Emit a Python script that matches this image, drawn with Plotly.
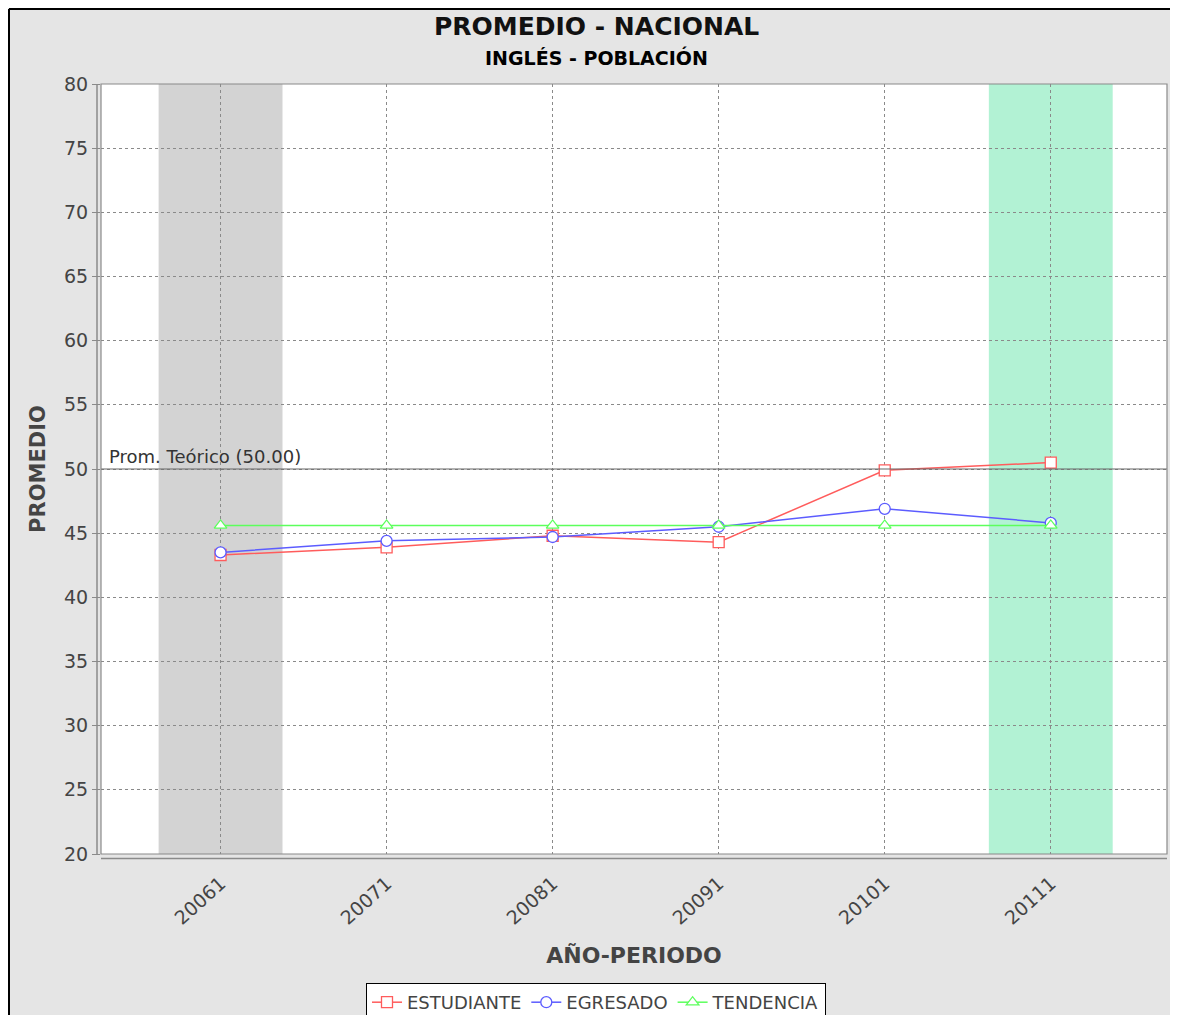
import plotly.graph_objects as go

periodos = ["20061", "20071", "20081", "20091", "20101", "20111"]
estudiante = [43.3, 43.9, 44.8, 44.3, 49.9, 50.5]
egresado = [43.5, 44.4, 44.7, 45.5, 46.9, 45.8]
tendencia = [45.6, 45.6, 45.6, 45.6, 45.6, 45.6]
prom_teorico = 50.0
y_ticks = [20, 25, 30, 35, 40, 45, 50, 55, 60, 65, 70, 75, 80]
banda_gris = "20061"
banda_verde = "20111"

OFF = 8  # page body margin
W, H = 1178 - OFF, 1015 - OFF
# plot area in page pixels
PL, PR, PT, PB = 101, 1167, 84, 854
L, R, T, B = PL - OFF, W - (PR - OFF), PT - OFF, H - (PB - OFF)
pw, ph = W - L - R, H - T - B

def px_x(p):
    return (p - PL) / pw

def px_y(p):
    return (PB - p) / ph

FONT = "DejaVu Sans"
fig = go.Figure()

series = [
    ("ESTUDIANTE", estudiante, "#ff5c5c", "square"),
    ("EGRESADO", egresado, "#5c5cff", "circle"),
    ("TENDENCIA", tendencia, "#5cff5c", "triangle-up"),
]
for name, vals, col, sym in series:
    fig.add_trace(go.Scatter(
        x=periodos, y=vals, name=name, mode="lines+markers",
        line=dict(color=col, width=1.5),
        marker=dict(symbol=sym, size=11, color="white", line=dict(color=col, width=1.3)),
    ))

shapes = []
idx_g = periodos.index(banda_gris)
idx_v = periodos.index(banda_verde)
shapes.append(dict(type="rect", xref="x", yref="paper", x0=idx_g - 0.373, x1=idx_g + 0.373,
                   y0=0, y1=1, fillcolor="#d3d3d3", line=dict(width=0), layer="below"))
shapes.append(dict(type="rect", xref="x", yref="paper", x0=idx_v - 0.373, x1=idx_v + 0.373,
                   y0=0, y1=1, fillcolor="#b2f2d4", line=dict(width=0), layer="below"))
shapes.append(dict(type="line", xref="paper", yref="y", x0=0, x1=1, y0=prom_teorico, y1=prom_teorico,
                   line=dict(color="#666666", width=1.2)))
shapes.append(dict(type="rect", xref="paper", yref="paper", x0=0, x1=1, y0=0, y1=1,
                   line=dict(color="#8a8a8a", width=1.2)))
shapes.append(dict(type="line", xref="paper", yref="paper", x0=px_x(97), x1=px_x(97), y0=0, y1=1,
                   line=dict(color="#8a8a8a", width=1.5)))
shapes.append(dict(type="line", xref="paper", yref="paper", x0=0, x1=1, y0=px_y(858.5), y1=px_y(858.5),
                   line=dict(color="#8a8a8a", width=1.5)))
# outer frame (left and top edges of the figure)
shapes.append(dict(type="line", xref="paper", yref="paper", x0=px_x(9), x1=px_x(1200),
                   y0=px_y(9), y1=px_y(9), line=dict(color="black", width=2)))
shapes.append(dict(type="line", xref="paper", yref="paper", x0=px_x(9), x1=px_x(9),
                   y0=px_y(9), y1=px_y(1100), line=dict(color="black", width=2)))

annotations = [
    dict(text="Prom. Teórico (50.00)", xref="paper", yref="y", x=px_x(107), y=prom_teorico,
         xanchor="left", yanchor="bottom", showarrow=False, yshift=0,
         font=dict(family=FONT, size=18, color="#333333")),
    dict(text="<b>PROMEDIO - NACIONAL</b>", xref="paper", yref="paper", x=px_x(596), y=px_y(26),
         xanchor="center", yanchor="middle", showarrow=False,
         font=dict(family=FONT, size=25, color="#111111")),
    dict(text="<b>INGLÉS - POBLACIÓN</b>", xref="paper", yref="paper", x=px_x(596), y=px_y(57),
         xanchor="center", yanchor="middle", showarrow=False,
         font=dict(family=FONT, size=19, color="black")),
]

fig.update_layout(
    width=W, height=H,
    margin=dict(l=L, r=R, t=T, b=B),
    paper_bgcolor="#e5e5e5", plot_bgcolor="white",
    shapes=shapes, annotations=annotations,
    showlegend=True,
    legend=dict(orientation="h", x=(596 - OFF) / W, xanchor="center", xref="container",
                y=1 - (983 - OFF) / H, yanchor="top", yref="container",
                bgcolor="white", bordercolor="black", borderwidth=1,
                font=dict(family=FONT, size=18, color="#444444")),
)

fig.update_xaxes(
    type="category", range=[-0.72, 5.70],
    showgrid=True, gridcolor="#8a8a8a", griddash="3px,3px", gridwidth=1,
    showline=False, zeroline=False, ticks="outside", ticklen=10, tickcolor="rgba(0,0,0,0)",
    tickangle=-42,
    tickfont=dict(family=FONT, size=19, color="#444444"),
    title=dict(text="<b>AÑO-PERIODO</b>", font=dict(family=FONT, size=22, color="#444444"), standoff=19),
)
fig.update_yaxes(
    range=[20, 80], tickvals=y_ticks,
    showgrid=True, gridcolor="#8a8a8a", griddash="3px,3px", gridwidth=1,
    showline=False, zeroline=False, ticks="outside", ticklen=8, tickcolor="#8a8a8a",
    tickfont=dict(family=FONT, size=19, color="#444444"),
    title=dict(text="<b>PROMEDIO</b>", font=dict(family=FONT, size=21, color="#444444"), standoff=12),
)

fig.write_html("out.html")
